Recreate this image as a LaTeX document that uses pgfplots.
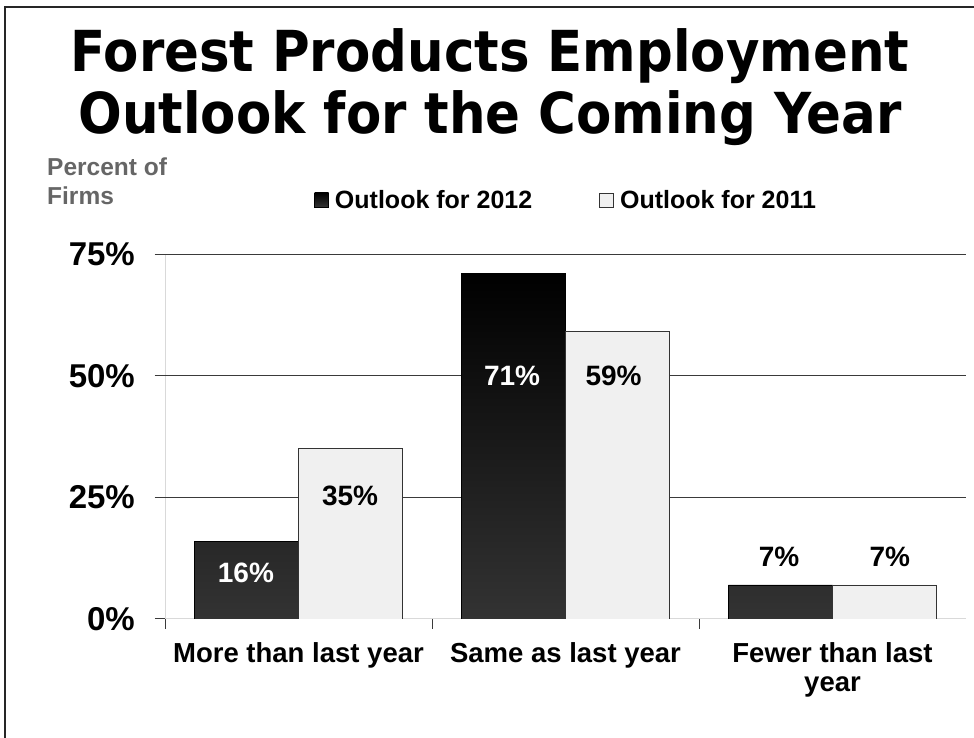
\documentclass[border=0pt]{standalone}
\usepackage{pgfplots}
\pgfplotsset{compat=1.18}
\usepackage{fontspec}
\setmainfont{Liberation Sans}
\newfontfamily\titlefont[FakeStretch=0.91]{DejaVu Sans}
\definecolor{lightbar}{HTML}{F0F0F0}
\definecolor{gridc}{HTML}{3A3A3A}
\definecolor{axisc}{HTML}{D9D9D9}
\definecolor{labgray}{HTML}{666666}
\begin{document}
\begin{tikzpicture}
\useasboundingbox (0,0) rectangle (974bp,738bp);
\fill[white] (0,0) rectangle (974bp,738bp);
\draw[line width=1.5bp, black!85] (5bp,0) -- (5bp,731bp) -- (974bp,731bp);
% title
\node[anchor=base, inner sep=0pt] at (490bp,666bp) {\titlefont\bfseries\fontsize{56.5bp}{60bp}\selectfont Forest Products Employment};
\node[anchor=base, inner sep=0pt] at (490bp,604bp) {\titlefont\bfseries\fontsize{56.5bp}{60bp}\selectfont Outlook for the Coming Year};
% y label
\node[anchor=base west, inner sep=0pt, text=labgray] at (47bp,562bp) {\bfseries\fontsize{24.5bp}{26bp}\selectfont Percent of};
\node[anchor=base west, inner sep=0pt, text=labgray] at (47bp,533bp) {\bfseries\fontsize{24.5bp}{26bp}\selectfont Firms};
\begin{axis}[
  at={(165bp,119bp)}, anchor=south west,
  scale only axis, width=801bp, height=365bp,
  xmin=-0.5, xmax=2.5, ymin=0, ymax=75,
  axis line style={axisc, line width=1bp},
  axis x line*=bottom, axis y line*=left,
  tick align=outside, major tick length=10bp,
  tick style={gridc, line width=1bp},
  ytick={0,25,50,75},
  yticklabels={0\%,25\%,50\%,75\%},
  yticklabel style={font=\bfseries\fontsize{33bp}{36bp}\selectfont, inner sep=0pt, xshift=-20bp},
  extra y ticks={25,50,75},
  extra y tick labels={},
  extra y tick style={grid=major, major grid style={gridc, line width=1bp}},
  xtick={-0.5,0.5,1.5},
  xticklabels={},
  extra x ticks={0,1,2},
  extra x tick labels={More than last year, Same as last year, {Fewer than last\\year}},
  extra x tick style={major tick length=0pt, xticklabel style={font=\bfseries\fontsize{27.5bp}{29bp}\selectfont, align=center, inner sep=0pt, yshift=-23bp}},
  legend style={at={(axis description cs:0.186,1.148)}, anchor=west, draw=none, fill=none, inner sep=0pt,
    font=\bfseries\fontsize{25bp}{28bp}\selectfont,
    nodes={inner sep=0pt},
    /tikz/every odd column/.append style={column sep=6bp},
    /tikz/every even column/.append style={column sep=67bp}},
  legend columns=2,
  legend image code/.code={\draw[#1, line width=0.8bp] (0bp,-7bp) rectangle (14bp,7bp);},
]
\addplot[ybar, bar width=0.39, bar shift=-0.195, draw=black, line width=0.8bp,
  top color=black, bottom color=black!80] coordinates {(0,16) (1,71) (2,7)};
\addplot[ybar, bar width=0.39, bar shift=0.195, draw=black!80, line width=0.8bp,
  fill=lightbar] coordinates {(0,35) (1,59) (2,7)};
\legend{Outlook for 2012, Outlook for 2011}
\begin{scope}[every node/.style={font=\bfseries\fontsize{28bp}{30bp}\selectfont, inner sep=0pt, anchor=base}]
\node[text=white] at (axis cs:-0.197,7.4) {16\%};
\node at (axis cs:0.193,23.4) {35\%};
\node[text=white] at (axis cs:0.80,47.9) {71\%};
\node at (axis cs:1.18,47.9) {59\%};
\node at (axis cs:1.80,10.7) {7\%};
\node at (axis cs:2.215,10.7) {7\%};
\end{scope}
\end{axis}
\end{tikzpicture}
\end{document}
